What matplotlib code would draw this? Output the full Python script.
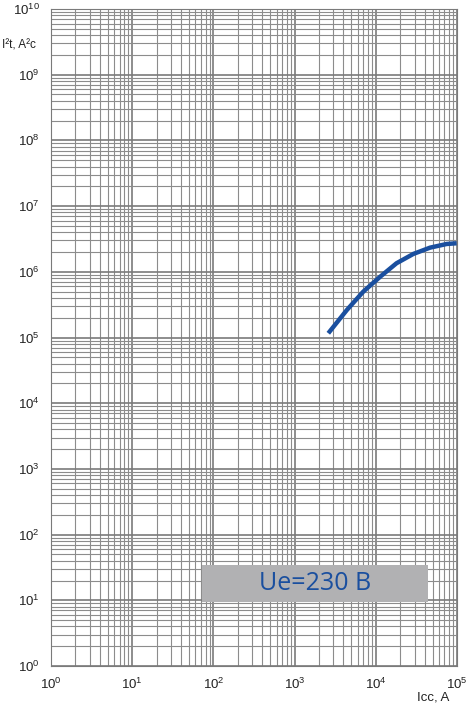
import numpy as np
import matplotlib
matplotlib.use("Agg")
from matplotlib import pyplot as plt
from matplotlib.ticker import LogLocator, NullFormatter
from matplotlib.patches import Rectangle

plt.rcParams['font.family'] = ['Liberation Sans', 'DejaVu Sans']

# curve
icc = [2600, 4400, 7000, 11300, 18000, 29000, 46500, 74500, 99000]
i2t = [1.16e5, 2.62e5, 4.98e5, 8.4e5, 1.35e6, 1.87e6, 2.33e6, 2.65e6, 2.72e6]

fig = plt.figure(figsize=(4.69, 7.11), dpi=100)
ax = fig.add_axes([51 / 469, 45 / 711, 406 / 469, 657 / 711])

ax.set_xscale("log")
ax.set_yscale("log")
ax.set_xlim(1, 1e5)
ax.set_ylim(1, 1e10)

ax.xaxis.set_major_locator(LogLocator(base=10, numticks=20))
ax.yaxis.set_major_locator(LogLocator(base=10, numticks=20))
ax.xaxis.set_minor_locator(LogLocator(base=10, subs=np.arange(2, 10), numticks=50))
ax.yaxis.set_minor_locator(LogLocator(base=10, subs=np.arange(2, 10), numticks=50))
ax.xaxis.set_minor_formatter(NullFormatter())
ax.yaxis.set_minor_formatter(NullFormatter())
ax.xaxis.offsetText.set_visible(False)
ax.yaxis.offsetText.set_visible(False)

ax.grid(True, which="major", color="#7a7a7a", linewidth=1.2)
ax.grid(True, which="minor", color="#8c8c8c", linewidth=0.8)
ax.tick_params(which="both", length=0, labelsize=9.5, colors="#222222", pad=8)
for s in ax.spines.values():
    s.set_color("#7a7a7a")

ax.plot(icc, i2t, color="#1a4f9f", linewidth=3.2, solid_capstyle="butt")

# label box
ax.add_patch(Rectangle((0.372, 0.097), 0.557, 0.056, transform=ax.transAxes,
                       facecolor="#b1b1b3", edgecolor="none", zorder=4))
ax.text(0.372 + 0.557 / 2, 0.097 + 0.056 / 2, "Ue=230 B", transform=ax.transAxes,
        ha="center", va="center", fontsize=18, color="#1a4f9f",
        family=["Open Sans", "DejaVu Sans"], zorder=5)

fig.text(2 / 469, 1 - 45 / 711, "I²t, A²c", ha="left", va="center", fontsize=8.5, color="#222222")
fig.text(449 / 469, 1 - 698 / 711, "Icc, A", ha="right", va="center", fontsize=9.5, color="#222222")

fig.savefig("out.png", dpi=100)
